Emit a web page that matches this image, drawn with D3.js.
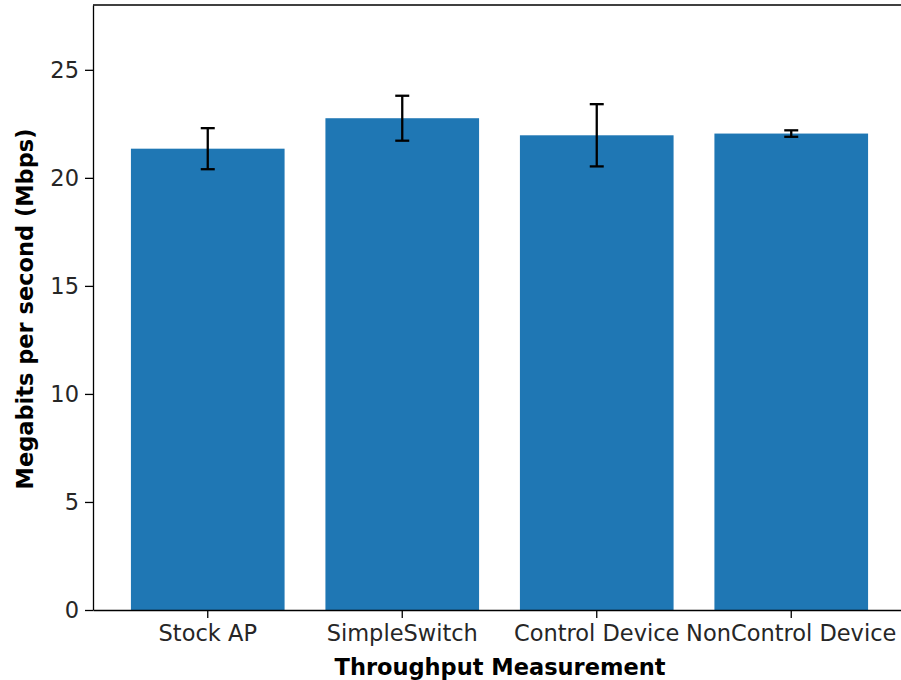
<!DOCTYPE html>
<html>
<head>
<meta charset="utf-8">
<script src="https://cdn.jsdelivr.net/npm/d3@7"></script>
<style>
  body { margin: 0; background: #fff; }
  svg { display: block; font-family: "DejaVu Sans", sans-serif; }
</style>
</head>
<body>
<script>
// data
const categories = ['Stock AP', 'SimpleSwitch', 'Control Device', 'NonControl Device'];
const throughput = [21.35, 22.76, 21.97, 22.05];
const errors = [0.95, 1.04, 1.44, 0.15];
const yTicks = [0, 5, 10, 15, 20, 25];

const width = 901;
const height = 680;
const margin = { left: 93, top: 5, bottom: 70 };
const plotRight = 906; // axes runs past the image edge in the reference

const svg = d3.select('body')
  .append('svg')
  .attr('width', width)
  .attr('height', height);

const x = d3.scaleBand()
  .domain(categories)
  .range([margin.left, plotRight])
  .paddingInner(0.21)
  .paddingOuter(0.195);

const y = d3.scaleLinear()
  .domain([0, 28])
  .range([height - margin.bottom, margin.top]);

const data = categories.map((c, i) => ({ cat: c, v: throughput[i], e: errors[i] }));

// bars
svg.append('g')
  .selectAll('rect')
  .data(data)
  .join('rect')
  .attr('x', d => x(d.cat))
  .attr('y', d => y(d.v))
  .attr('width', x.bandwidth())
  .attr('height', d => y(0) - y(d.v))
  .attr('fill', '#1f77b4');

// error bars
const cap = 7;
const eb = svg.append('g')
  .attr('stroke', '#000')
  .attr('stroke-width', 2.3);
data.forEach(d => {
  const cx = x(d.cat) + x.bandwidth() / 2;
  eb.append('line')
    .attr('x1', cx).attr('x2', cx)
    .attr('y1', y(d.v - d.e)).attr('y2', y(d.v + d.e));
  [d.v - d.e, d.v + d.e].forEach(val => {
    eb.append('line')
      .attr('x1', cx - cap).attr('x2', cx + cap)
      .attr('y1', y(val)).attr('y2', y(val));
  });
});

// axes
const xAxis = svg.append('g')
  .attr('transform', `translate(0,${y(0)})`)
  .call(d3.axisBottom(x).tickSize(8).tickPadding(7).tickSizeOuter(0));
const yAxis = svg.append('g')
  .attr('transform', `translate(${margin.left},0)`)
  .call(d3.axisLeft(y).tickValues(yTicks).tickSize(8).tickPadding(6).tickSizeOuter(0));

[xAxis, yAxis].forEach(a => {
  a.select('.domain').attr('stroke', '#000').attr('stroke-width', 1.3);
  a.selectAll('.tick line').attr('stroke', '#000').attr('stroke-width', 1.3);
  a.selectAll('.tick text')
    .attr('fill', '#262626')
    .style('font-size', '22.5px')
    .style('font-family', '"DejaVu Sans", sans-serif');
});

// top spine
svg.append('line')
  .attr('x1', margin.left).attr('x2', plotRight)
  .attr('y1', y(28)).attr('y2', y(28))
  .attr('stroke', '#000')
  .attr('stroke-width', 1.3);

// axis labels
svg.append('text')
  .attr('x', 500)
  .attr('y', 675)
  .attr('text-anchor', 'middle')
  .style('font-size', '22.5px')
  .style('font-weight', 'bold')
  .text('Throughput Measurement');

svg.append('text')
  .attr('transform', `translate(33,309) rotate(-90)`)
  .attr('text-anchor', 'middle')
  .style('font-size', '22.5px')
  .style('font-weight', 'bold')
  .text('Megabits per second (Mbps)');
</script>
</body>
</html>
